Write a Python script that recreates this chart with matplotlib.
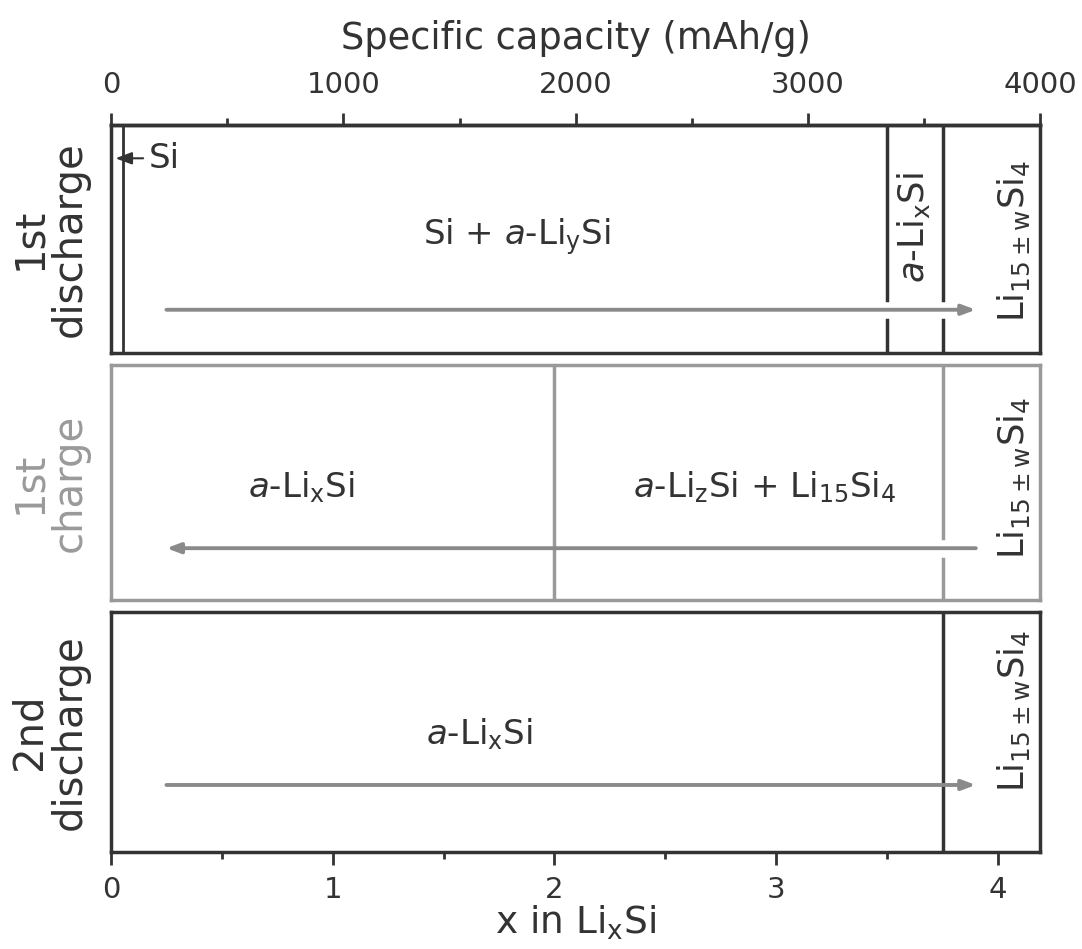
import matplotlib
matplotlib.use("Agg")
import matplotlib.pyplot as plt

plt.rcParams["font.family"] = ["DejaVu Sans"]
plt.rcParams["mathtext.fontset"] = "dejavusans"

# capacity per mole Li in LixSi (mAh/g)
CAP_PER_LI = 954.3
X_MAX = 4000 / CAP_PER_LI

# panel labels and colours
panel_labels = ["1st\ndischarge", "1st\ncharge", "2nd\ndischarge"]
panel_colors = ["#333333", "#9a9a9a", "#333333"]

# phase boundaries (x in LixSi) per panel, and whether they break at the arrow
boundaries = [[0.054, 3.5, 3.75], [2.0, 3.75], [3.75]]
broken = [[False, True, True], [False, True], [False]]

# arrows: (start x, end x, y in axes fraction)
arrows = [(0.25, 3.9, 0.19), (3.9, 0.25, 0.22), (0.25, 3.9, 0.28)]

# region labels: (x, y, text, rotation)
LI15W = r"Li$_{15\pm\mathrm{w}}$Si$_4$"
region_texts = [
    [(1.83, 0.51, r"Si + $\mathit{a}$-Li$_\mathrm{y}$Si", 0),
     (3.62, 0.55, r"$\mathit{a}$-Li$_\mathrm{x}$Si", 90),
     (4.07, 0.49, LI15W, 90)],
    [(0.86, 0.48, r"$\mathit{a}$-Li$_\mathrm{x}$Si", 0),
     (2.95, 0.48, r"$\mathit{a}$-Li$_\mathrm{z}$Si + Li$_{15}$Si$_4$", 0),
     (4.07, 0.52, LI15W, 90)],
    [(1.66, 0.49, r"$\mathit{a}$-Li$_\mathrm{x}$Si", 0),
     (4.07, 0.59, LI15W, 90)],
]

fig = plt.figure(figsize=(10.82, 9.49), dpi=100)
left, width = 0.1026, 0.859
rects = [(0.628, 0.240), (0.368, 0.247), (0.102, 0.253)]
axes = [fig.add_axes([left, b, width, h]) for b, h in rects]

fs = 24.5
for i, ax in enumerate(axes):
    col = panel_colors[i]
    ax.set_xlim(0, X_MAX)
    ax.set_ylim(0, 1)
    for sp in ax.spines.values():
        sp.set_color(col)
        sp.set_linewidth(2.5)
    ax.set_yticks([])
    ax.tick_params(axis="x", which="both", bottom=False, labelbottom=False)

    ay = arrows[i][2]
    for xb, br in zip(boundaries[i], broken[i]):
        lw = 2.0 if xb < 0.1 else 2.5
        if br:
            ax.axvline(xb, 0, ay - 0.045, color=col, lw=lw)
            ax.axvline(xb, ay + 0.045, 1, color=col, lw=lw)
        else:
            ax.axvline(xb, color=col, lw=lw)

    x0, x1, _ = arrows[i]
    ax.annotate("", xy=(x1, ay), xytext=(x0, ay),
                arrowprops=dict(arrowstyle="-|>,head_length=0.8,head_width=0.3",
                                color="#8a8a8a", lw=2.8, shrinkA=0, shrinkB=0))

    for tx, ty, s, rot in region_texts[i]:
        ax.text(tx, ty, s, fontsize=fs if rot == 0 else 25.5, color="#333333",
                rotation=rot, ha="center", va="center")

    ax.text(-0.066, 0.5, panel_labels[i], transform=ax.transAxes,
            rotation=90, ha="center", va="center", fontsize=29,
            color=col, multialignment="center", linespacing=1.0)

# Si marker in the first panel
axes[0].annotate("Si", xy=(0.02, 0.855), xytext=(0.17, 0.855),
                 fontsize=fs, color="#333333", va="center",
                 arrowprops=dict(arrowstyle="-|>,head_length=0.4,head_width=0.15",
                                 color="#333333", lw=1.5, shrinkA=2, shrinkB=0))

# bottom axis
axb = axes[2]
axb.tick_params(axis="x", which="both", bottom=True, labelbottom=True,
                direction="out", colors="#333333", labelsize=21, pad=8)
axb.tick_params(axis="x", which="major", length=9, width=2)
axb.tick_params(axis="x", which="minor", length=5, width=2)
axb.set_xticks([0, 1, 2, 3, 4])
axb.set_xticks([0.5, 1.5, 2.5, 3.5], minor=True)
axb.set_xlabel(r"x in Li$_\mathrm{x}$Si", fontsize=27, color="#333333", labelpad=0)

# top axis: specific capacity
axt = axes[0].secondary_xaxis("top", functions=(lambda x: x * CAP_PER_LI,
                                                 lambda c: c / CAP_PER_LI))
axt.set_xticks([0, 1000, 2000, 3000, 4000])
axt.set_xticks([500, 1500, 2500, 3500], minor=True)
axt.tick_params(axis="x", which="both", direction="out", colors="#333333",
                labelsize=21, pad=10)
axt.tick_params(axis="x", which="major", length=9, width=2)
axt.tick_params(axis="x", which="minor", length=5, width=2)
axt.spines["top"].set_linewidth(2.5)
axt.spines["top"].set_color("#333333")
axt.set_xlabel("Specific capacity (mAh/g)", fontsize=26.5, color="#333333", labelpad=16)

fig.savefig("out.png", dpi=100)
